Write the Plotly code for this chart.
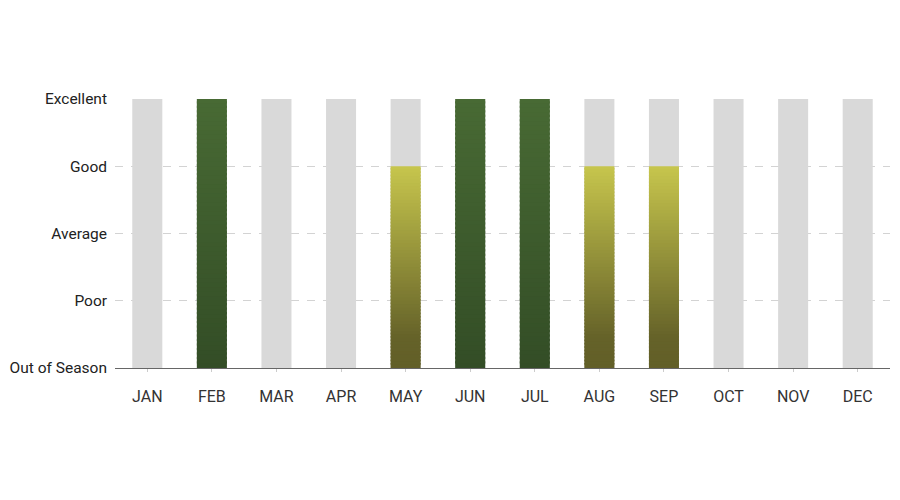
import plotly.graph_objects as go

months = ["JAN", "FEB", "MAR", "APR", "MAY", "JUN", "JUL", "AUG", "SEP", "OCT", "NOV", "DEC"]
ratings = [0, 4, 0, 0, 3, 4, 4, 3, 3, 0, 0, 0]
rating_labels = ["Out of Season", "Poor", "Average", "Good", "Excellent"]

# gradient stops (position from bottom, colour) per rating level
gradients = {
    3: [(0.0, "#625f28"), (0.15, "#656229"), (1.0, "#c7c64d")],
    4: [(0.0, "#334d26"), (1.0, "#486a34")],
}
N_SLICES = 60


def hex_to_rgb(h):
    h = h.lstrip("#")
    return tuple(int(h[i:i + 2], 16) for i in (0, 2, 4))


def colour_at(stops, t):
    for (p0, c0), (p1, c1) in zip(stops, stops[1:]):
        if p0 <= t <= p1:
            f = 0 if p1 == p0 else (t - p0) / (p1 - p0)
            a, b = hex_to_rgb(c0), hex_to_rgb(c1)
            return "rgb(%d,%d,%d)" % tuple(round(a[i] + (b[i] - a[i]) * f) for i in range(3))
    return stops[-1][1]


top = len(rating_labels) - 1
fig = go.Figure()

# grey background bars up to the top level
fig.add_trace(go.Bar(
    x=months, y=[top] * len(months),
    marker=dict(color="#d9d9d9", line=dict(width=0)),
    hoverinfo="skip", showlegend=False,
))

# gradient bars built from thin slices
for k in range(N_SLICES):
    t = (k + 0.5) / N_SLICES
    colours = [colour_at(gradients[r], t) if r in gradients else "rgba(0,0,0,0)" for r in ratings]
    fig.add_trace(go.Bar(
        x=months,
        y=[r / N_SLICES * 1.5 if k < N_SLICES - 1 else r / N_SLICES for r in ratings],
        base=[r * k / N_SLICES for r in ratings],
        marker=dict(color=colours, line=dict(width=0)),
        hoverinfo="skip", showlegend=False,
    ))

fig.update_layout(
    barmode="overlay",
    bargap=0.535,
    width=900, height=500,
    margin=dict(l=107, r=18, t=91, b=140),
    plot_bgcolor="white",
    paper_bgcolor="white",
    font=dict(family="Roboto", size=15.5, color="#222222"),
)
fig.update_xaxes(
    showline=True, linecolor="#666666", linewidth=1,
    ticks="outside", ticklen=3, tickcolor="#cccccc",
    ticklabelstandoff=11,
    tickfont=dict(size=16, color="#333333"),
    showgrid=False,
)
fig.update_yaxes(
    range=[0, top],
    tickvals=list(range(len(rating_labels))),
    ticktext=rating_labels,
    showgrid=True, gridcolor="#d3d3d3", griddash="8px,8px", gridwidth=1,
    zeroline=False, showline=False,
    ticklabelstandoff=7,
    automargin=False,
)

fig.write_html("out.html")
